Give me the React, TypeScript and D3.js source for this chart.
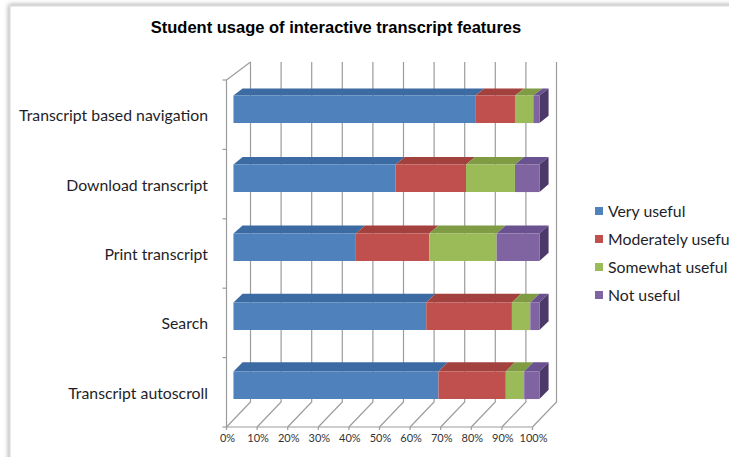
import React from 'react'
import * as d3 from 'd3'

const categories = [
  'Transcript based navigation',
  'Download transcript',
  'Print transcript',
  'Search',
  'Transcript autoscroll',
]
const seriesNames = ['Very useful', 'Moderately useful', 'Somewhat useful', 'Not useful']
const veryUseful = [79, 53, 40, 63, 67]
const moderatelyUseful = [13, 23, 24, 28, 22]
const somewhatUseful = [6, 16, 22, 6, 6]
const notUseful = [2, 8, 14, 3, 5]
const tickLabels = ['0%', '10%', '20%', '30%', '40%', '50%', '60%', '70%', '80%', '90%', '100%']

const colors = ['#4f81bd', '#c0504d', '#9bbb59', '#8064a2']
const topColors = ['#3c6aa2', '#a3413e', '#7f9c45', '#6a5190']
const sideColors = ['#2f5485', '#84302e', '#66803a', '#4b3a69']

const W = 729
const H = 457

export default function App() {
  const top = 80
  const bottom = 427
  const x = d3.scaleLinear().domain([0, 100]).range([226.5, 532.5])
  const y = d3.scaleBand<string>().domain(categories).range([top, bottom]).paddingInner(0.6).paddingOuter(0.3)
  const step = y.step()

  // oblique depth, slightly steeper towards the floor
  const depth = (sy: number) => ({ dx: 24, dy: -18 - 7 * (sy - top) / (bottom - top) })
  const proj = (v: number, sy: number, z: number) => {
    const d = depth(sy)
    return [x(v) + d.dx * z, sy + d.dy * z]
  }
  const pts = (arr: number[][]) => arr.map(p => p.join(',')).join(' ')

  const values = [veryUseful, moderatelyUseful, somewhatUseful, notUseful]
  const stacked = categories.map((c, i) => {
    let acc = 0
    return values.map((s, k) => {
      const v0 = acc
      acc += s[i]
      return { cat: c, k, v0, v1: acc }
    })
  })

  const ticks = d3.range(0, 101, 10)
  const z0 = 0.29
  const z1 = 0.67
  const font = "Lato, 'Open Sans', sans-serif"

  return (
    <svg width={W} height={H} style={{ position: 'absolute', left: 0, top: 0, display: 'block' }}>
      <defs>
        <filter id="sh" x="-5%" y="-5%" width="110%" height="110%">
          <feGaussianBlur in="SourceAlpha" stdDeviation="2.5" />
          <feOffset dx="-1" dy="-1" />
          <feComponentTransfer><feFuncA type="linear" slope="0.35" /></feComponentTransfer>
          <feMerge><feMergeNode /><feMergeNode in="SourceGraphic" /></feMerge>
        </filter>
      </defs>
      <rect x={0} y={0} width={W} height={H} fill="#ffffff" />
      <rect x={10} y={6} width={760} height={480} fill="#ffffff" stroke="#d4d4d4" filter="url(#sh)" />

      <text x={336} y={33} textAnchor="middle" fontFamily="'Liberation Sans', Arial, sans-serif"
        fontWeight="bold" fontSize={16.5} fill="#000">Student usage of interactive transcript features</text>

      {/* back wall gridlines and floor */}
      <g stroke="#9c9c9c" strokeWidth={1.2} fill="none">
        {ticks.map(t => {
          const a = proj(t, top, 1)
          const b = proj(t, bottom, 1)
          const c = proj(t, bottom, 0)
          return <polyline key={t} points={pts([a, b, c])} />
        })}
        <polyline points={pts([proj(0, bottom, 0), proj(0, top, 0), proj(0, top, 1)])} />
        <line x1={x(0)} x2={x(100)} y1={bottom} y2={bottom} />
        {ticks.map(t => <line key={'t' + t} x1={x(t)} x2={x(t)} y1={bottom} y2={bottom + 3} />)}
        {d3.range(0, categories.length + 1).map(i => (
          <line key={'c' + i} x1={x(0) - 4} x2={x(0)} y1={top + i * step} y2={top + i * step} />
        ))}
      </g>

      {/* bars */}
      {stacked.map((segs, i) => {
        const yt = y(segs[0].cat) as number
        const yb = yt + y.bandwidth()
        return (
          <g key={i}>
            {segs.map(s => {
              const ftl = proj(s.v0, yt, z0)
              const ftr = proj(s.v1, yt, z0)
              const fbr = proj(s.v1, yb, z0)
              const fbl = proj(s.v0, yb, z0)
              const btl = proj(s.v0, yt, z1)
              const btr = proj(s.v1, yt, z1)
              const bbr = proj(s.v1, yb, z1)
              return (
                <g key={s.k}>
                  <polygon points={pts([ftl, ftr, btr, btl])} fill={topColors[s.k]} />
                  {s.k === seriesNames.length - 1 && (
                    <polygon points={pts([ftr, btr, bbr, fbr])} fill={sideColors[s.k]} />
                  )}
                  <polygon points={pts([ftl, ftr, fbr, fbl])} fill={colors[s.k]} />
                </g>
              )
            })}
          </g>
        )
      })}

      {/* category labels */}
      {categories.map(c => (
        <text key={c} x={208} y={(y(c) as number) + y.bandwidth() / 2 + 1} dy="0.35em" textAnchor="end"
          fontFamily={font} fontSize={15.8} fill="#1e1e28">{c}</text>
      ))}

      {/* x tick labels */}
      {ticks.map((t, i) => (
        <text key={t} x={x(t) + 1} y={442} textAnchor="middle" fontFamily={font}
          fontSize={11} fill="#333">{tickLabels[i]}</text>
      ))}

      {/* legend */}
      {seriesNames.map((n, k) => (
        <g key={n} transform={`translate(595,${211 + k * 28})`}>
          <rect x={0} y={-4} width={8} height={8} fill={colors[k]} />
          <text x={13} y={0} dy="0.35em" fontFamily={font} fontSize={15.8} fill="#1e1e28">{n}</text>
        </g>
      ))}
    </svg>
  )
}
